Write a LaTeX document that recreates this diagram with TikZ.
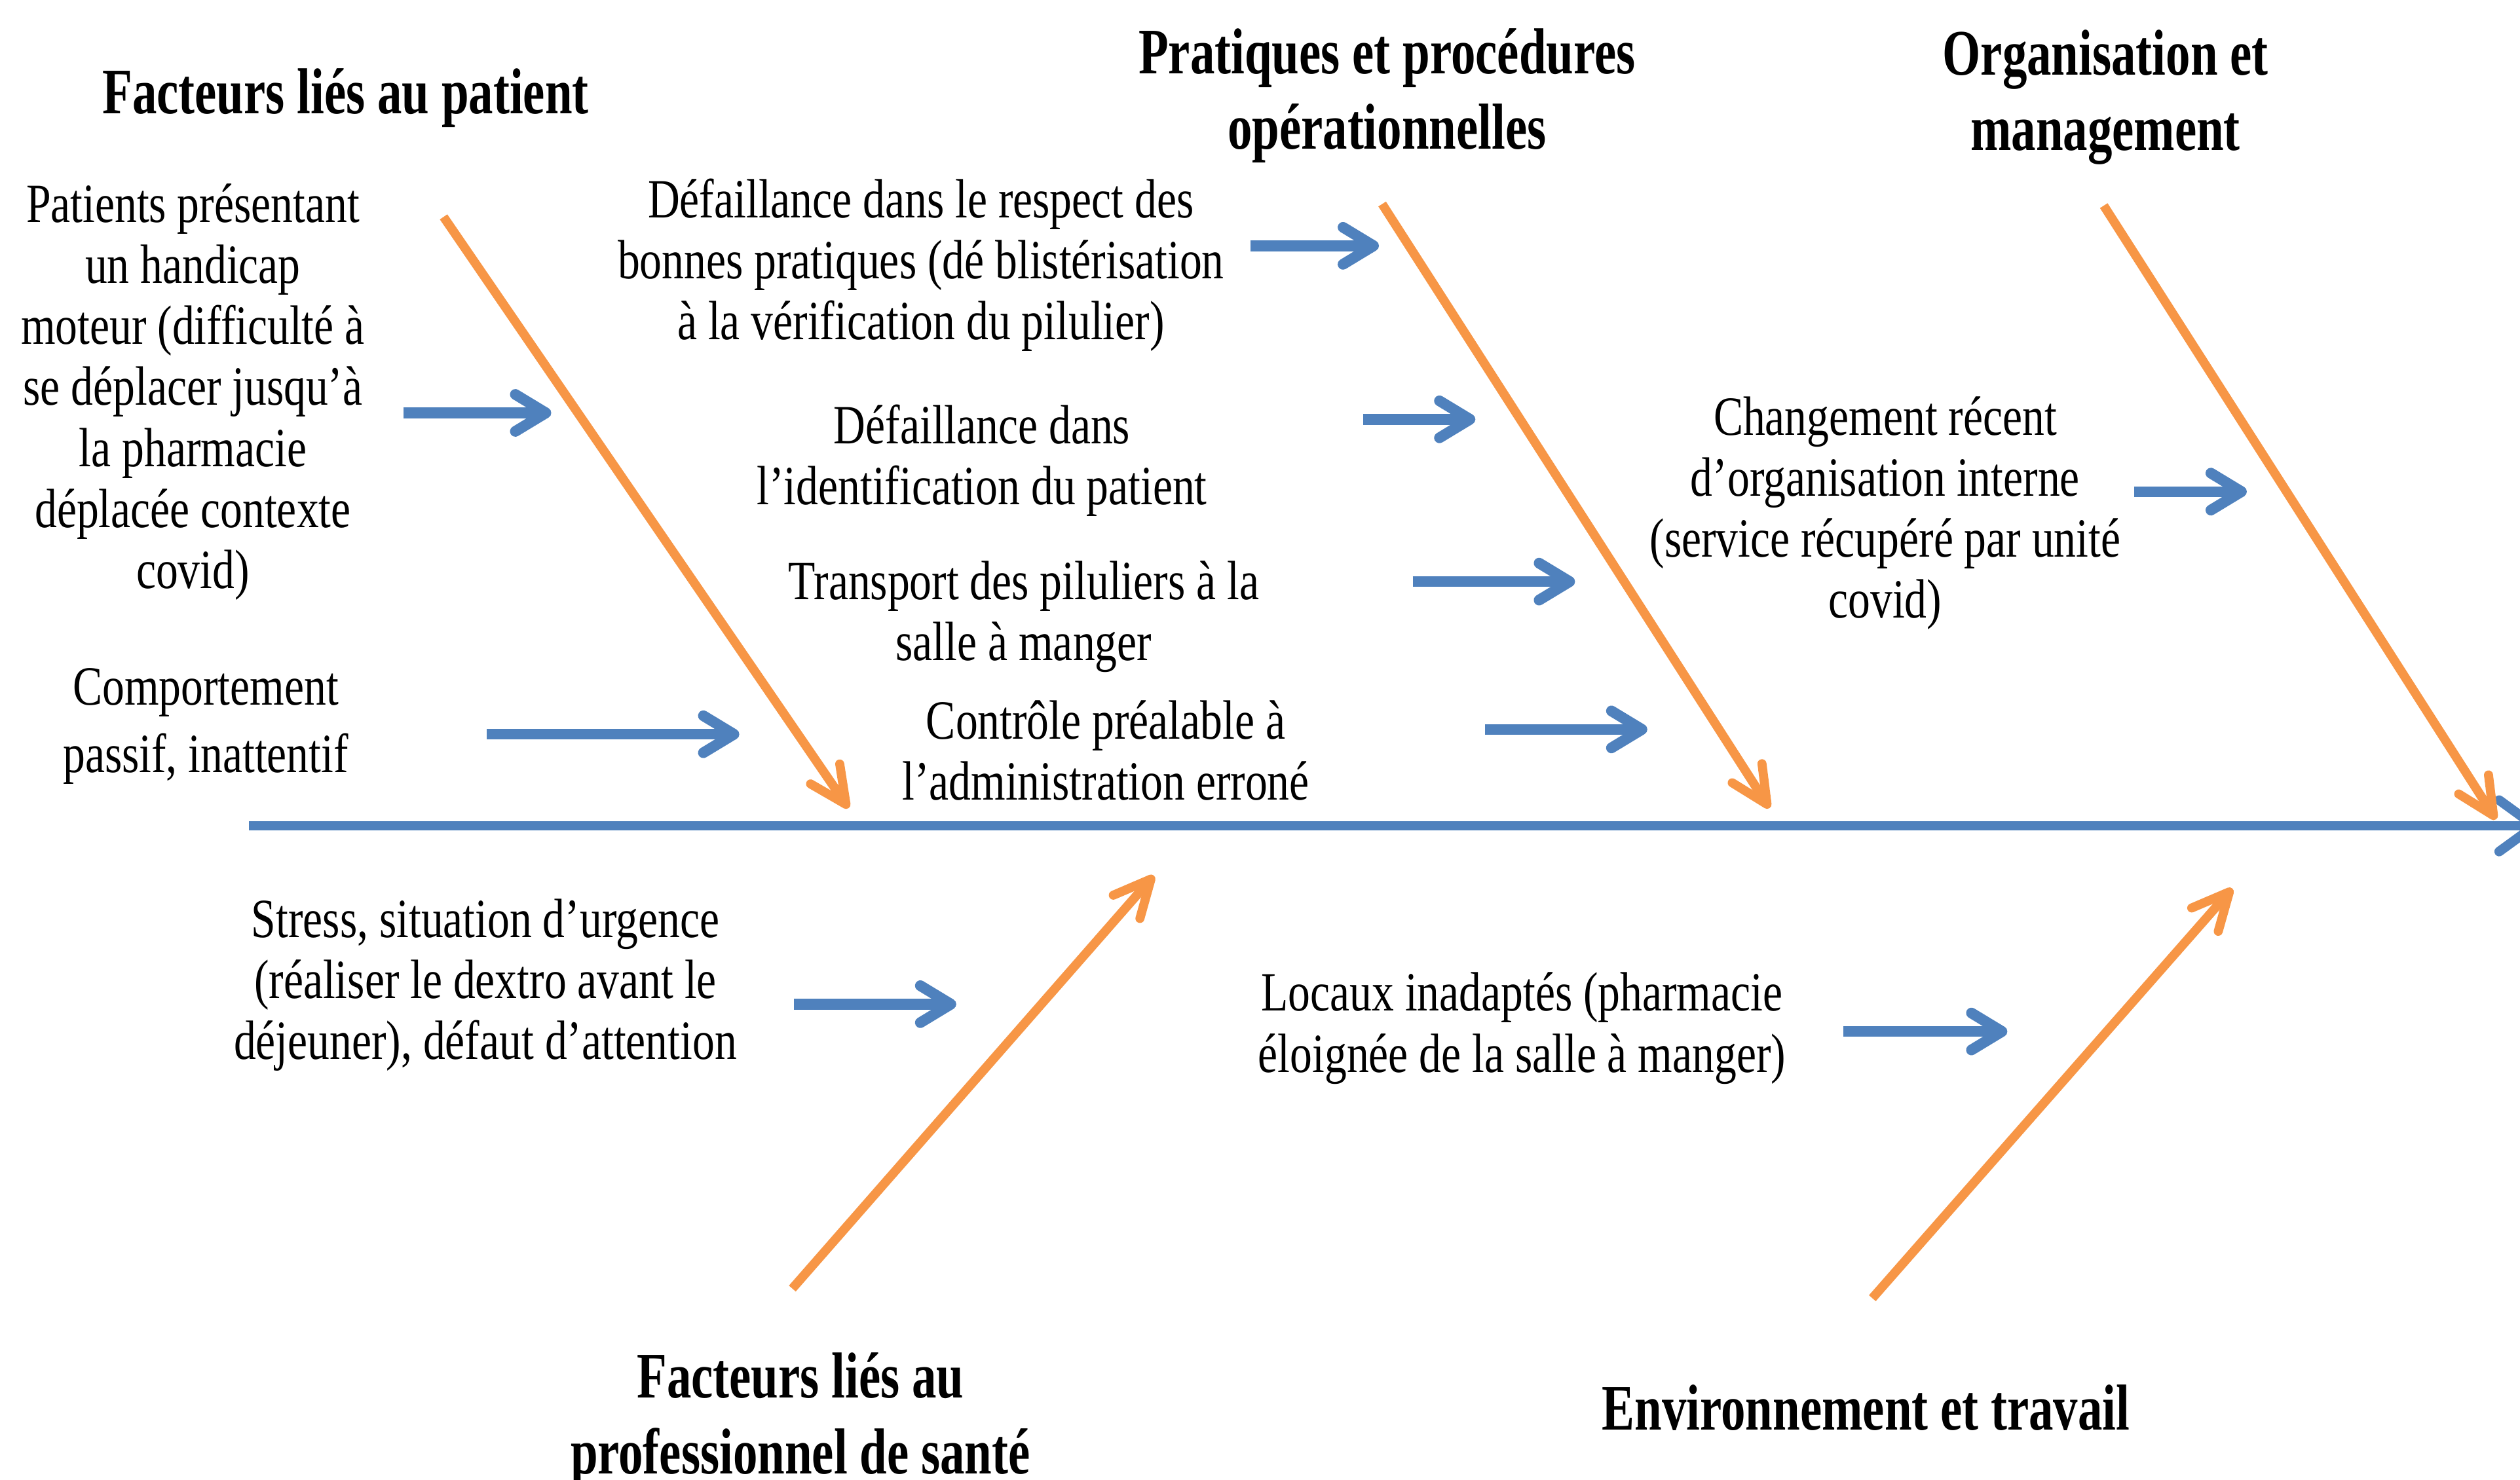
\documentclass[tikz,border=0pt]{standalone}
\usepackage{fontspec}
\setmainfont{Liberation Serif}[FakeStretch=0.8]
\newfontfamily\headfont{Liberation Serif}[FakeStretch=0.755]
\usetikzlibrary{arrows.meta}
\definecolor{boneblue}{HTML}{4F81BD}
\definecolor{boneorange}{HTML}{F79646}
\tikzset{
  spine/.style={draw=boneblue, line width=1.7pt, -{Straight Barb[length=2.2mm,width=3.2mm,round]}},
  bone/.style={draw=boneorange, line width=1.6pt, -{Straight Barb[length=2.3mm,width=2.2mm,round]}},
  cause/.style={draw=boneblue, line width=1.9pt, -{Straight Barb[length=1.9mm,width=2.3mm,round]}},
  causetext/.style={align=center, inner sep=0pt, font=\fontsize{9.8}{10.8}\selectfont},
  headtext/.style={align=center, inner sep=0pt, font=\headfont\bfseries\fontsize{11.5}{13.4}\selectfont},
}

\begin{document}
\begin{tikzpicture}
  %%%%% START %%%%%
  \useasboundingbox (0,0) rectangle (15.68,9.21);

  % spine
  \coordinate (tail) at (1.55,4.07);
  \coordinate (head) at (15.80,4.07);
  \draw[spine] (tail) -- (head);

  % bones
  \coordinate (patTop) at (2.76,7.86);   \coordinate (patEnd) at (5.28,4.18);
  \coordinate (praTop) at (8.60,7.94);   \coordinate (praEnd) at (11.01,4.18);
  \coordinate (orgTop) at (13.09,7.93);  \coordinate (orgEnd) at (15.53,4.11);
  \coordinate (proBot) at (4.93,1.19);   \coordinate (proEnd) at (7.18,3.76);
  \coordinate (envBot) at (11.65,1.13);  \coordinate (envEnd) at (13.89,3.68);
  \draw[bone] (patTop) -- (patEnd);
  \draw[bone] (praTop) -- (praEnd);
  \draw[bone] (orgTop) -- (orgEnd);
  \draw[bone] (proBot) -- (proEnd);
  \draw[bone] (envBot) -- (envEnd);

  % headings
  \node[headtext] (hPatient) at (2.15,8.60) {Facteurs liés au patient};
  \node[headtext] (hPratique) at (8.63,8.615) {Pratiques et procédures\\opérationnelles};
  \node[headtext] (hOrga) at (13.10,8.605) {Organisation et\\management};
  \node[headtext] (hPro) at (4.98,0.37) {Facteurs liés au\\professionnel de santé};
  \node[headtext] (hEnv) at (11.61,0.45) {Environnement et travail};

  % causes, patient
  \node[causetext] (cHandicap) at (1.20,6.77) {Patients présentant\\un handicap\\moteur (difficulté à\\se déplacer jusqu’à\\la pharmacie\\déplacée contexte\\covid)};
  \node[causetext, font=\fontsize{9.8}{12}\selectfont] (cPassif) at (1.28,4.69) {Comportement\\passif, inattentif};
  \coordinate (aHandicap) at (2.51,6.64);  \coordinate (bHandicap) at (3.43,6.64);
  \coordinate (aPassif) at (3.03,4.64);    \coordinate (bPassif) at (4.60,4.64);
  \draw[cause] (aHandicap) -- (bHandicap);
  \draw[cause] (aPassif) -- (bPassif);

  % causes, pratiques
  \node[causetext] (cRespect) at (5.73,7.56) {Défaillance dans le respect des\\bonnes pratiques (dé blistérisation\\à la vérification du pilulier)};
  \node[causetext] (cIdent) at (6.11,6.345) {Défaillance dans\\l’identification du patient};
  \node[causetext] (cTransport) at (6.37,5.37) {Transport des piluliers à la\\salle à manger};
  \node[causetext] (cControle) at (6.88,4.54) {Contrôle préalable à\\l’administration erroné};
  \coordinate (aRespect) at (7.78,7.68);   \coordinate (bRespect) at (8.58,7.68);
  \coordinate (aIdent) at (8.48,6.60);     \coordinate (bIdent) at (9.18,6.60);
  \coordinate (aTransport) at (8.79,5.59); \coordinate (bTransport) at (9.80,5.59);
  \coordinate (aControle) at (9.24,4.67);  \coordinate (bControle) at (10.25,4.67);
  \draw[cause] (aRespect) -- (bRespect);
  \draw[cause] (aIdent) -- (bIdent);
  \draw[cause] (aTransport) -- (bTransport);
  \draw[cause] (aControle) -- (bControle);

  % causes, organisation
  \node[causetext] (cChange) at (11.73,6.015) {Changement récent\\d’organisation interne\\(service récupéré par unité\\covid)};
  \coordinate (aChange) at (13.28,6.15);   \coordinate (bChange) at (13.98,6.15);
  \draw[cause] (aChange) -- (bChange);

  % causes, professionnel
  \node[causetext] (cStress) at (3.02,3.08) {Stress, situation d’urgence\\(réaliser le dextro avant le\\déjeuner), défaut d’attention};
  \coordinate (aStress) at (4.94,2.96);    \coordinate (bStress) at (5.95,2.96);
  \draw[cause] (aStress) -- (bStress);

  % causes, environnement
  \node[causetext] (cLocaux) at (9.47,2.81) {Locaux inadaptés (pharmacie\\éloignée de la salle à manger)};
  \coordinate (aLocaux) at (11.47,2.79);   \coordinate (bLocaux) at (12.49,2.79);
  \draw[cause] (aLocaux) -- (bLocaux);
  %%%%% END %%%%%
\end{tikzpicture}
\end{document}
